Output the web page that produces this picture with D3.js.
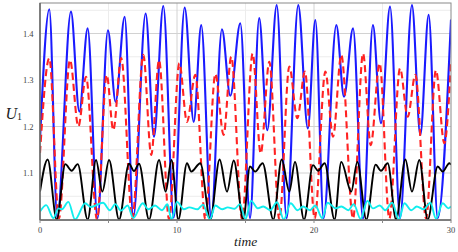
<!DOCTYPE html>
<html><head><meta charset="utf-8">
<script src="https://cdn.jsdelivr.net/npm/d3@7/dist/d3.min.js"></script>
<style>html,body{margin:0;padding:0;background:#fff;}svg{display:block;}</style>
</head><body>
<script>
// ---- data ----
const xTicks = [0, 10, 20, 30];
const xMinor = [5, 15, 25];
const yTicks = [1.1, 1.2, 1.3, 1.4];
const yMinor = [1.05, 1.15, 1.25, 1.35, 1.45];

const blueT = [0,0.68,1.26,2.26,2.87,3.48,4.2,4.96,5.52,6.18,6.81,7.71,8.32,9.0,9.76,10.56,11.22,11.77,12.5,13.28,13.89,14.62,15.33,16.0,16.59,17.28,18.0,18.85,19.55,20.1,20.7,21.63,22.19,22.85,23.58,24.3,24.89,25.55,26.28,27.15,27.76,28.37,29.03,30];
const blueV = [1.171,1.452,1.005,1.447,1.232,1.411,1.003,1.407,1.253,1.436,1.005,1.443,1.178,1.459,1.004,1.456,1.210,1.418,1.003,1.409,1.266,1.422,1.003,1.433,1.192,1.461,1.003,1.461,1.196,1.429,1.003,1.418,1.264,1.411,1.002,1.418,1.207,1.458,1.003,1.461,1.182,1.44,1.003,1.43];

const redT = [0,0.68,1.38,2.19,2.8,3.36,4.16,4.87,5.35,5.93,6.74,7.54,8.12,8.69,9.42,10.17,10.73,11.34,12.07,12.8,13.4,13.96,14.75,15.52,16.11,16.74,17.47,18.2,18.78,19.34,20.05,20.83,21.39,21.99,22.85,23.58,24.14,24.79,25.5,26.28,26.84,27.4,28.18,28.9,29.51,30];
const redV = [1.143,1.347,1.002,1.343,1.2,1.307,1.0,1.311,1.192,1.347,1.002,1.354,1.139,1.343,1.0,1.336,1.21,1.311,1.0,1.313,1.182,1.35,1.0,1.357,1.142,1.339,1.0,1.329,1.218,1.318,1.002,1.318,1.178,1.354,1.002,1.357,1.16,1.336,1.002,1.325,1.221,1.311,1.002,1.321,1.164,1.339];

const blackT = [0,0.56,1.22,1.85,2.31,2.75,3.48,4.09,4.55,5.04,5.77,6.5,6.86,7.23,7.96,8.69,9.17,9.6,10.1,10.73,11.04,11.7,12.43,13.11,13.65,14.14,14.84,15.33,15.7,16.25,17.03,17.64,18.2,18.61,19.27,19.93,20.29,20.78,21.5,21.99,22.72,23.16,23.82,24.5,24.89,25.38,25.99,26.67,27.15,27.69,28.3,29.03,29.39,29.88,30];
const blackV = [1.06,1.129,1.0,1.119,1.105,1.119,1.0,1.128,1.06,1.128,1.0,1.12,1.104,1.12,1.0,1.128,1.06,1.128,1.0,1.121,1.103,1.121,1.0,1.129,1.06,1.127,1.0,1.114,1.103,1.121,1.0,1.129,1.06,1.124,1.0,1.117,1.105,1.121,1.0,1.124,1.06,1.124,1.0,1.118,1.105,1.121,1.0,1.129,1.06,1.128,1.0,1.114,1.103,1.121,1.118];

const cyanT = [0,0.45,0.98,1.35,1.6,2.07,2.56,3.3,3.7,4.6,5.1,5.5,5.9,6.4,6.8,7.5,7.9,8.4,8.9,9.3,9.6,10.0,10.5,10.9,11.5,11.9,12.4,12.8,13.3,13.7,14.2,14.6,15.0,15.4,15.9,16.3,16.8,17.3,17.8,18.3,18.8,19.2,19.7,20.1,20.6,21.0,21.6,22.0,22.5,22.9,23.4,23.9,24.3,24.8,25.2,25.7,26.2,26.6,27.1,27.5,28.0,28.5,28.9,29.4,29.8,30];
const cyanV = [1.017,1.031,1.003,1.024,1.022,1.038,1.0,1.035,1.027,1.036,1.02,1.033,1.019,1.03,1.003,1.035,1.022,1.03,1.02,1.033,1.0,1.038,1.022,1.026,1.022,1.032,1.0,1.03,1.022,1.026,1.023,1.033,1.001,1.04,1.024,1.028,1.02,1.037,1.0,1.035,1.02,1.028,1.02,1.03,1.003,1.036,1.024,1.028,1.02,1.033,1.001,1.04,1.024,1.03,1.02,1.036,1.0,1.035,1.02,1.028,1.022,1.036,1.002,1.035,1.024,1.028];

// ---- layout ----
const W = 458, H = 252;
const L = 40, R = 451, T = 3, B = 220;
const x = d3.scaleLinear().domain([0, 30]).range([L, R]);
const y = d3.scaleLinear().domain([1.0, 1.4656]).range([219.5, T]);

const svg = d3.select("body").append("svg").attr("width", W).attr("height", H);
svg.append("defs").append("clipPath").attr("id", "clip")
  .append("rect").attr("x", L).attr("y", T).attr("width", R - L).attr("height", B - T);

// grid
const grid = svg.append("g");
grid.selectAll(".ym").data(yMinor).enter().append("line")
  .attr("x1", L).attr("x2", R).attr("y1", d => y(d)).attr("y2", d => y(d))
  .attr("stroke", "#ececec").attr("stroke-width", 1);
grid.selectAll(".xm").data(xMinor).enter().append("line")
  .attr("y1", T).attr("y2", B).attr("x1", d => x(d)).attr("x2", d => x(d))
  .attr("stroke", "#ececec").attr("stroke-width", 1);
grid.selectAll(".yM").data(yTicks).enter().append("line")
  .attr("x1", L).attr("x2", R).attr("y1", d => y(d)).attr("y2", d => y(d))
  .attr("stroke", "#d2d2d2").attr("stroke-width", 1);
grid.selectAll(".xM").data(xTicks.slice(1, -1)).enter().append("line")
  .attr("y1", T).attr("y2", B).attr("x1", d => x(d)).attr("x2", d => x(d))
  .attr("stroke", "#d2d2d2").attr("stroke-width", 1);

// curves
const line = d3.line().x((d, i) => x(d[0])).y(d => y(d[1])).curve(d3.curveMonotoneX);
const zip = (a, b) => a.map((t, i) => [t, b[i]]);
const plot = svg.append("g").attr("clip-path", "url(#clip)");
plot.append("path").datum(zip(blueT, blueV)).attr("d", line)
  .attr("fill", "none").attr("stroke", "#1a1aff").attr("stroke-width", 2.1);
plot.append("path").datum(zip(redT, redV)).attr("d", line)
  .attr("fill", "none").attr("stroke", "#ff2222").attr("stroke-width", 2.1)
  .attr("stroke-dasharray", "7,4");
plot.append("path").datum(zip(blackT, blackV)).attr("d", line)
  .attr("fill", "none").attr("stroke", "#000").attr("stroke-width", 1.9);
plot.append("path").datum(zip(cyanT, cyanV)).attr("d", line)
  .attr("fill", "none").attr("stroke", "#11eeee").attr("stroke-width", 1.9);

// frame
svg.append("rect").attr("x", L).attr("y", T).attr("width", R - L).attr("height", B - T)
  .attr("fill", "none").attr("stroke", "#8a8a8a").attr("stroke-width", 1);
svg.append("line").attr("x1", L).attr("x2", L).attr("y1", T).attr("y2", B)
  .attr("stroke", "#666").attr("stroke-width", 1.5);
svg.append("line").attr("x1", L).attr("x2", R).attr("y1", B).attr("y2", B)
  .attr("stroke", "#666").attr("stroke-width", 1.5);

// x ticks
svg.selectAll(".xt").data(xTicks.concat(xMinor)).enter().append("line")
  .attr("x1", d => x(d)).attr("x2", d => x(d)).attr("y1", B).attr("y2", B + 3)
  .attr("stroke", "#888").attr("stroke-width", 1);
svg.selectAll(".xl").data(xTicks).enter().append("text")
  .attr("x", d => x(d)).attr("y", 233).attr("text-anchor", "middle")
  .attr("font-family", "'Liberation Serif','Times New Roman',serif").attr("font-size", 8.5)
  .attr("fill", "#444").text(d => d);
svg.selectAll(".yl").data(yTicks).enter().append("text")
  .attr("x", 33.5).attr("y", d => y(d) + 3).attr("text-anchor", "end")
  .attr("font-family", "'Liberation Serif','Times New Roman',serif").attr("font-size", 8.5)
  .attr("fill", "#444").text(d => d.toFixed(1));

// axis labels
svg.append("text").attr("x", 245.5).attr("y", 246).attr("text-anchor", "middle")
  .attr("font-family", "'Liberation Serif','Times New Roman',serif").attr("font-style", "italic")
  .attr("font-size", 13.5).attr("fill", "#222").text("time");
const ul = svg.append("text").attr("x", 5.5).attr("y", 118.5)
  .attr("font-family", "'Liberation Serif','Times New Roman',serif").attr("fill", "#222");
ul.append("tspan").attr("font-style", "italic").attr("font-size", 16).text("U");
ul.append("tspan").attr("font-size", 10).attr("dy", 1.5).text("1");
</script>
</body></html>
